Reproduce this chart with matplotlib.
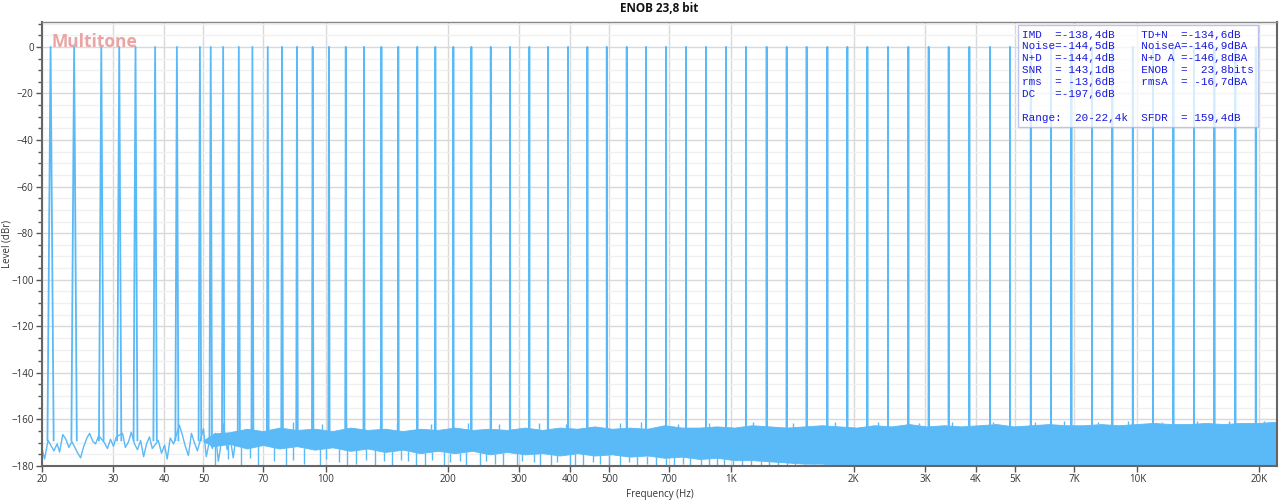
#!/usr/bin/env python3
"""
Multitone FFT spectrum (ENOB 23,8 bit) recreation.
"""

import matplotlib.pyplot as plt
from matplotlib.ticker import FixedLocator, MultipleLocator, NullFormatter
import numpy as np

# Tone frequencies (Hz), all at 0 dBr
tone_freqs = [21.0, 24.0, 28.0, 31.0, 34.0, 38.0, 43.0, 49.0, 52.1, 55.9,
              61.1, 66.0, 72.0, 78.1, 85.0, 92.9, 101.9, 112.1, 124.3, 137.2,
              151.0, 168.2, 186.3, 206.4, 228.6, 255.2, 284.7, 317.6, 353.1, 395.7,
              441.5, 492.9, 552.0, 615.8, 689.9, 772.7, 865.6, 969.6, 1086, 1221,
              1368, 1532, 1723, 1930, 2162, 2431, 2728, 3062, 3430, 3856,
              4337, 4858, 5464, 6130, 6880, 7734, 8680, 9748, 10938, 12272,
              13800, 15488, 17442, 19586]
tone_level = 0.0
bin_hz = 0.37

# Low frequency noise trace (Hz, dBr)
lf_freqs = [20.0, 20.3, 20.7, 21.4, 21.8, 22.1, 22.5, 22.9, 23.3, 23.7,
            24.5, 24.9, 25.3, 25.8, 26.2, 26.7, 27.1, 27.6, 28.5, 29.0,
            29.5, 30.0, 30.5, 31.6, 32.1, 32.7, 33.2, 33.8, 34.4, 35.0,
            35.6, 36.2, 36.8, 37.4, 38.7, 39.4, 40.1, 40.7, 41.4, 42.2,
            43.6, 44.4, 45.1, 45.9, 46.7, 47.5, 48.3, 50.0, 50.8, 51.7,
            52.6, 53.5, 54.4, 55.3, 56.3, 57.2, 58.2, 59.2, 60.2, 61.2]
lf_levels = [-172.5, -177.0, -169.0, -173.5, -170.5, -174.0, -166.5, -168.5, -172.0, -169.5,
             -174.5, -176.5, -172.0, -168.0, -166.0, -169.5, -170.5, -167.0, -170.0, -172.5,
             -168.5, -171.5, -167.5, -166.0, -172.0, -169.5, -165.5, -170.5, -173.0, -169.0,
             -176.0, -170.5, -167.5, -172.5, -169.0, -174.5, -171.0, -177.0, -168.0, -170.5,
             -162.5, -167.0, -171.5, -175.5, -166.0, -170.0, -173.5, -164.0, -176.0, -169.5,
             -172.5, -166.0, -178.0, -170.0, -165.5, -173.0, -168.0, -176.5, -166.5, -171.0]

# Dense noise band: upper / lower envelope (Hz, dBr)
band_freqs = [50, 53, 58, 64, 70, 77, 85, 94, 104,
              115, 127, 140, 155, 171, 189, 208, 230, 254, 280,
              310, 342, 378, 417, 460, 508, 561, 620, 684, 755,
              834, 921, 1017, 1123, 1240, 1369, 1512, 1669, 1843, 2035,
              2247, 2481, 2740, 3025, 3340, 3688, 4073, 4497, 4966, 5483,
              6054, 6685, 7382, 8151, 9000, 9938, 10974, 12117, 13380, 14774,
              16313, 18013, 19890, 22100]
band_upper = [-169.0, -166.0, -165.5, -164.0, -165.0, -163.5, -164.5, -164.0, -165.0,
              -163.5, -164.5, -164.0, -165.0, -164.0, -164.5, -163.5, -164.5, -164.0, -164.5,
              -163.5, -164.5, -163.5, -164.0, -163.0, -164.0, -163.5, -164.0, -162.5, -163.5,
              -163.5, -163.0, -163.5, -162.5, -163.0, -163.5, -163.0, -162.5, -163.0, -163.5,
              -162.5, -163.0, -162.0, -163.0, -162.5, -163.0, -162.5, -162.0, -163.0, -162.5,
              -162.0, -162.5, -162.5, -162.0, -162.5, -162.0, -161.5, -162.0, -162.0, -161.5,
              -162.0, -161.5, -161.5, -161.0]
band_lower = [-169.5, -171.5, -170.5, -172.5, -171.0, -172.5, -171.5, -173.0, -172.0,
              -173.5, -172.5, -174.0, -173.0, -174.5, -173.5, -174.5, -173.5, -175.0, -174.0,
              -175.0, -174.5, -175.5, -174.5, -175.5, -175.0, -176.0, -175.5, -176.5, -176.0,
              -177.0, -176.5, -177.5, -177.5, -178.0, -178.5, -179.0, -179.0, -179.5, -180.0,
              -180.0, -180.0, -180.0, -180.0, -180.0, -180.0, -180.0, -180.0, -180.0, -180.0,
              -180.0, -180.0, -180.0, -180.0, -180.0, -180.0, -180.0, -180.0, -180.0, -180.0,
              -180.0, -180.0, -180.0, -180.0]

# Downward noise spikes below the dense band (Hz, dBr)
dip_freqs = [53.5, 57.5, 62.0, 65.0, 68.0, 74.5, 80.0, 83.0, 88.5, 97.0, 100, 108,
             113, 119, 126, 132, 139, 146, 153, 160, 167, 176, 183, 196, 203, 214,
             222, 240, 248, 262, 273, 296, 305, 326, 338, 360, 372, 400, 412, 430,
             456, 475, 500, 530, 560, 585, 620, 650, 690, 720, 760, 790, 840, 880,
             920, 960, 1010, 1060, 1120, 1180, 1240, 1300, 1370, 1430, 1520, 1600,
             1690, 1760, 1860, 1950]
dip_levels = [-180.0, -177.0, -179.5, -176.5, -180.0, -178.0, -180.0, -177.5, -179.0, -180.0, -177.0, -178.5,
              -180.0, -179.0, -177.5, -180.0, -178.0, -180.0, -177.5, -178.0, -180.0, -179.5, -177.5, -180.0, -178.5, -178.0,
              -180.0, -180.0, -178.0, -179.0, -180.0, -180.0, -178.0, -178.5, -180.0, -180.0, -178.5, -179.5, -180.0, -180.0,
              -178.5, -179.0, -180.0, -180.0, -178.5, -180.0, -179.0, -179.5, -180.0, -180.0, -179.0, -180.0, -180.0, -179.5,
              -180.0, -180.0, -179.5, -180.0, -180.0, -180.0, -180.0, -180.0, -180.0, -180.0, -180.0, -180.0,
              -180.0, -180.0, -180.0, -180.0]

# Upward noise spikes above the dense band (Hz, dBr)
peak_freqs = [56, 66, 83, 98, 112, 136, 150, 182, 224, 268,
              335, 390, 530, 600, 740, 880, 1130, 1420, 1800, 2300,
              2900, 3500, 4400, 5600, 6600, 8000, 9500, 11500, 14000, 16800, 20500]
peak_levels = [-161.5, -162.5, -161.0, -162.0, -161.5, -162.5, -161.5, -162.0, -161.5, -162.0,
               -161.5, -162.0, -161.5, -161.0, -162.0, -161.5, -161.0, -161.5, -161.0, -161.0,
               -161.5, -161.0, -161.0, -161.0, -160.5, -161.0, -160.5, -161.0, -160.5, -160.5, -160.5]

x_ticks = [20, 30, 40, 50, 70, 100, 200, 300, 400, 500, 700,
           1000, 2000, 3000, 4000, 5000, 7000, 10000, 20000]
x_labels = ['20', '30', '40', '50', '70', '100', '200', '300', '400', '500', '700',
            '1K', '2K', '3K', '4K', '5K', '7K', '10K', '20K']

info_lines = [
    "IMD  =-138,4dB    TD+N  =-134,6dB",
    "Noise=-144,5dB    NoiseA=-146,9dBA",
    "N+D  =-144,4dB    N+D A =-146,8dBA",
    "SNR  = 143,1dB    ENOB  =  23,8bits",
    "rms  = -13,6dB    rmsA  = -16,7dBA",
    "DC   =-197,6dB",
    "",
    "Range:  20-22,4k  SFDR  = 159,4dB",
]

BLUE = '#5ab9f7'
plt.rcParams['font.family'] = ['Open Sans', 'DejaVu Sans']

fig = plt.figure(figsize=(12.8, 5.03), dpi=100)
ax = fig.add_axes([0.0328, 0.0736, 0.9649, 0.8827])
ax.set_xscale('log')
ax.set_xlim(20, 22100)
ax.set_ylim(-180, 10.7)

# noise floor
ax.fill_between(band_freqs, band_lower, band_upper, color=BLUE, lw=0.6,
                edgecolor=BLUE, zorder=2)
base = np.interp(np.log(dip_freqs), np.log(band_freqs), band_lower)
ax.vlines(dip_freqs, dip_levels, base, color=BLUE, lw=1.0, zorder=2)
top = np.interp(np.log(peak_freqs), np.log(band_freqs), band_upper)
ax.vlines(peak_freqs, top, peak_levels, color=BLUE, lw=1.0, zorder=2)
ax.plot(lf_freqs, lf_levels, color=BLUE, lw=1.0, zorder=2)

# tones
floor = np.interp(np.log(tone_freqs), np.log(band_freqs), band_upper)
for f, fl in zip(tone_freqs, floor):
    fl = min(fl, -168.0)
    ax.plot([f - bin_hz, f, f + bin_hz], [fl, tone_level, fl], color=BLUE, lw=1.3, zorder=3)

# grid / ticks
ax.xaxis.set_major_locator(FixedLocator(x_ticks))
ax.set_xticklabels(x_labels)
ax.xaxis.set_minor_formatter(NullFormatter())
ax.xaxis.set_minor_locator(FixedLocator([]))
ax.yaxis.set_major_locator(FixedLocator(list(range(-180, 1, 20))))
ax.yaxis.set_minor_locator(MultipleLocator(5))
ax.grid(which='major', axis='both', color='#d9d9d9', lw=1.0, zorder=0)
ax.grid(which='minor', axis='y', color='#f0f0f0', lw=1.0, zorder=0)
ax.set_axisbelow(True)
ax.tick_params(which='major', direction='out', length=4, width=1, color='#555555',
               labelsize=7, labelcolor='#333333', pad=2)
ax.tick_params(which='minor', direction='out', length=3, width=1, color='#555555')
for side in ['left', 'bottom', 'right']:
    ax.spines[side].set_color('#666666')
    ax.spines[side].set_linewidth(1.5)
ax.spines['top'].set_color('#888888')
ax.spines['top'].set_linewidth(1.0)

ax.set_xlabel('Frequency (Hz)', fontsize=7, color='#333333', labelpad=3)
ax.set_ylabel('Level (dBr)', fontsize=7, color='#333333')
ax.yaxis.set_label_coords(-0.0235, 0.5)

ax.set_title('ENOB 23,8 bit', fontsize=8.5, fontweight='bold', color='#111111', pad=7)
ax.text(0.0075, 0.975, 'Multitone', transform=ax.transAxes, ha='left', va='top',
        fontsize=12.5, fontweight='bold', color='#eba3a3')

ax.text(0.7935, 0.983, "\n".join(info_lines), transform=ax.transAxes, ha='left', va='top',
        family='Liberation Mono', fontsize=7.9, color='#1818e0', linespacing=1.24,
        zorder=5,
        bbox=dict(facecolor='white', alpha=0.75, edgecolor='#a8b0e8', lw=1.0,
                  boxstyle='square,pad=0.4'))

plt.savefig('out.png', dpi=100)
plt.close()
